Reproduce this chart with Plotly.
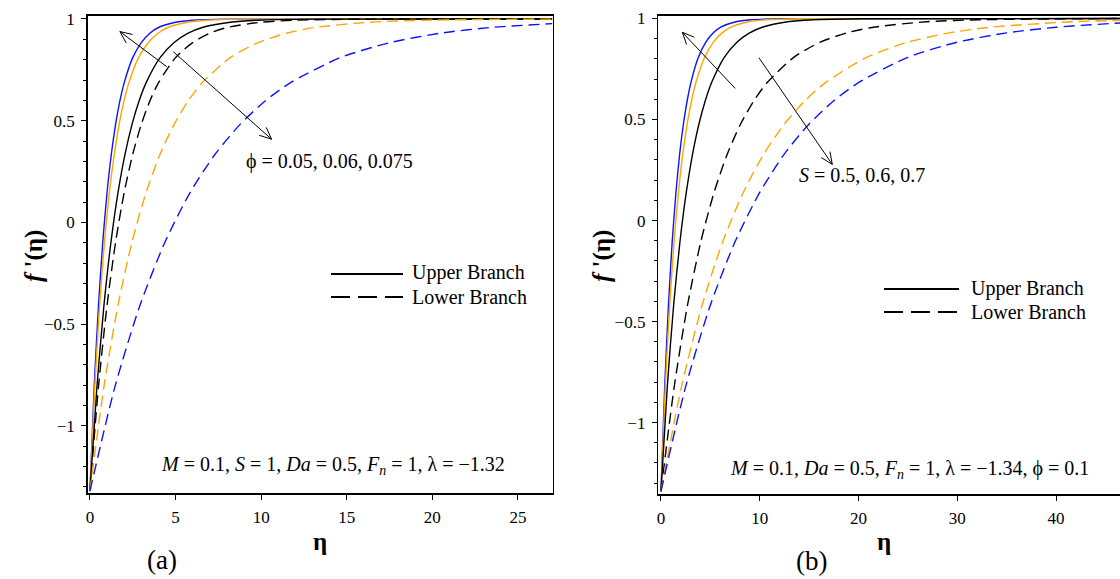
import math
import plotly.graph_objects as go

W, H = 1120, 579
FONT = "Liberation Serif"

# ---------------- data: panel (a)  (phi = 0.05, 0.06, 0.075) ----------------
f_read_a = [-1.32, -0.807, -0.407, -0.096, 0.147, 0.335, 0.482, 0.597, 0.686,
            0.810, 0.884, 0.930, 0.958, 0.984, 0.994, 0.999]

eta_a_up_blue = [0, 0.25, 0.5, 0.75, 1.0, 1.25, 1.5, 1.75, 2.0, 2.5, 3.0, 3.5, 4.0, 5.0, 6.0, 8.0, 27.0]
f_a_up_blue = f_read_a + [1.0]
eta_a_up_orange = [0, 0.284, 0.568, 0.852, 1.136, 1.420, 1.705, 1.989, 2.273, 2.841, 3.409, 3.977, 4.545, 5.682, 6.818, 9.091, 27.0]
f_a_up_orange = f_read_a + [1.0]
eta_a_up_black = [0, 0.410, 0.820, 1.230, 1.639, 2.049, 2.459, 2.869, 3.279, 4.098, 4.918, 5.738, 6.557, 8.197, 9.836, 13.115, 27.0]
f_a_up_black = f_read_a + [1.0]
eta_a_lo_black = [0, 0.5, 1.0, 1.5, 2.0, 2.5, 3.0, 3.5, 4.0, 5.0, 6.0, 7.0, 8.0, 10.0, 12.0, 16.0, 27.0]
f_a_lo_black = f_read_a + [1.0]
eta_a_lo_orange = [0, 0.820, 1.639, 2.459, 3.279, 4.098, 4.918, 5.738, 6.557, 8.197, 9.836, 11.475, 13.115, 16.393, 19.672, 26.230, 27.0]
f_a_lo_orange = f_read_a + [0.999]
eta_a_lo_blue = [0, 1.462, 2.924, 4.386, 5.848, 7.310, 8.772, 10.234, 11.696, 14.620, 17.544, 20.468, 23.392, 27.0]
f_a_lo_blue = f_read_a[:13] + [0.977]

# ---------------- data: panel (b)  (S = 0.5, 0.6, 0.7) ----------------
f_read_b = [-1.34, -0.822, -0.419, -0.105, 0.139, 0.330, 0.478, 0.593, 0.683,
            0.808, 0.883, 0.929, 0.957, 0.984, 0.994, 0.999]

eta_b_up_blue = [0, 0.379, 0.758, 1.136, 1.515, 1.894, 2.273, 2.652, 3.030, 3.788, 4.545, 5.303, 6.061, 7.576, 9.091, 12.121, 46.5]
f_b_up_blue = f_read_b + [1.0]
eta_b_up_orange = [0, 0.442, 0.885, 1.327, 1.770, 2.212, 2.655, 3.097, 3.540, 4.425, 5.310, 6.195, 7.080, 8.850, 10.619, 14.159, 46.5]
f_b_up_orange = f_read_b + [1.0]
eta_b_up_black = [0, 0.641, 1.282, 1.923, 2.564, 3.205, 3.846, 4.487, 5.128, 6.410, 7.692, 8.974, 10.256, 12.821, 15.385, 20.513, 46.5]
f_b_up_black = f_read_b + [1.0]
eta_b_lo_black = [0, 1.344, 2.688, 4.032, 5.376, 6.720, 8.065, 9.409, 10.753, 13.441, 16.129, 18.817, 21.505, 26.882, 32.258, 43.011, 46.5]
f_b_lo_black = f_read_b + [1.0]
eta_b_lo_orange = [0, 2.083, 4.167, 6.25, 8.333, 10.417, 12.5, 14.583, 16.667, 20.833, 25.0, 29.167, 33.333, 41.667, 46.5]
f_b_lo_orange = f_read_b[:14] + [0.991]
eta_b_lo_blue = [0, 2.5, 5.0, 7.5, 10.0, 12.5, 15.0, 17.5, 20.0, 25.0, 30.0, 35.0, 40.0, 46.5]
f_b_lo_blue = f_read_b[:13] + [0.978]

x_ticks_a = [0, 5, 10, 15, 20, 25]
x_ticks_b = [0, 10, 20, 30, 40]
y_ticks = [-1, -0.5, 0, 0.5, 1]

BLUE = "#0a14ff"
ORANGE = "#ffa500"
BLACK = "#000000"

# ---------------- layout geometry (pixels) ----------------
PANELS = {
    "a": dict(x0=87.7, x1=552.7, top=15.7, bot=493.3, xr=[-0.13, 27.03], yr=[-1.331, 1.016]),
    "b": dict(x0=658.3, x1=1120.0, top=15.7, bot=494.3, xr=[-0.27, 46.48], yr=[-1.355, 1.014]),
}


def to_px(p, x, y):
    g = PANELS[p]
    px = g["x0"] + (x - g["xr"][0]) / (g["xr"][1] - g["xr"][0]) * (g["x1"] - g["x0"])
    py = g["bot"] - (y - g["yr"][0]) / (g["yr"][1] - g["yr"][0]) * (g["bot"] - g["top"])
    return px, py


def to_data(p, px, py):
    g = PANELS[p]
    x = g["xr"][0] + (px - g["x0"]) / (g["x1"] - g["x0"]) * (g["xr"][1] - g["xr"][0])
    y = g["yr"][0] + (g["bot"] - py) / (g["bot"] - g["top"]) * (g["yr"][1] - g["yr"][0])
    return x, y


fig = go.Figure()

line_w = 1.4
dash_curve = "11px,6px"

curves = [
    ("a", eta_a_up_blue, f_a_up_blue, BLUE, "solid"),
    ("a", eta_a_up_orange, f_a_up_orange, ORANGE, "solid"),
    ("a", eta_a_up_black, f_a_up_black, BLACK, "solid"),
    ("a", eta_a_lo_black, f_a_lo_black, BLACK, dash_curve),
    ("a", eta_a_lo_orange, f_a_lo_orange, ORANGE, dash_curve),
    ("a", eta_a_lo_blue, f_a_lo_blue, BLUE, dash_curve),
    ("b", eta_b_up_blue, f_b_up_blue, BLUE, "solid"),
    ("b", eta_b_up_orange, f_b_up_orange, ORANGE, "solid"),
    ("b", eta_b_up_black, f_b_up_black, BLACK, "solid"),
    ("b", eta_b_lo_black, f_b_lo_black, BLACK, dash_curve),
    ("b", eta_b_lo_orange, f_b_lo_orange, ORANGE, dash_curve),
    ("b", eta_b_lo_blue, f_b_lo_blue, BLUE, dash_curve),
]
for p, xs, ys, col, dash in curves:
    fig.add_trace(go.Scatter(
        x=xs, y=ys, mode="lines",
        line=dict(color=col, width=line_w, dash=dash, shape="spline", smoothing=0.7),
        xaxis="x" if p == "a" else "x2", yaxis="y" if p == "a" else "y2",
        showlegend=False, hoverinfo="skip"))

tickfont = dict(family=FONT, size=17, color="black")
common_x = dict(showgrid=False, zeroline=False, showline=True, linecolor="black", linewidth=1.5,
                ticks="outside", ticklen=5, tickwidth=1, tickcolor="black", tickfont=tickfont,
                ticklabelstandoff=3)
common_y = dict(showgrid=False, zeroline=False, showline=True, linecolor="black", linewidth=1.5,
                ticks="outside", ticklen=5, tickwidth=1, tickcolor="black", tickfont=tickfont,
                tickvals=y_ticks, ticklabelstandoff=3,
                minor=dict(dtick=0.1, tick0=0, ticks="outside", ticklen=3, tickcolor="black", tickwidth=1))

ga, gb = PANELS["a"], PANELS["b"]
fig.update_layout(
    width=W, height=H, autosize=False,
    margin=dict(l=0, r=0, t=0, b=0, autoexpand=False),
    paper_bgcolor="white", plot_bgcolor="white",
    font=dict(family=FONT, color="black"),
    xaxis=dict(common_x, domain=[ga["x0"] / W, ga["x1"] / W], range=ga["xr"], tickvals=x_ticks_a,
               mirror=True, anchor="y"),
    yaxis=dict(common_y, domain=[1 - ga["bot"] / H, 1 - ga["top"] / H], range=ga["yr"],
               mirror=True, anchor="x"),
    xaxis2=dict(common_x, domain=[gb["x0"] / W, min(1.0, gb["x1"] / W)], range=gb["xr"], tickvals=x_ticks_b,
                mirror=True, anchor="y2"),
    yaxis2=dict(common_y, domain=[1 - gb["bot"] / H, 1 - gb["top"] / H], range=gb["yr"],
                mirror=False, anchor="x2"),
)

# ---------------- arrows (open V heads) ----------------
arrows = [
    ("a", (4.48, 0.766), (1.75, 0.938)),
    ("a", (4.87, 0.839), (10.61, 0.409)),
    ("b", (7.52, 0.654), (2.16, 0.932)),
    ("b", (9.92, 0.806), (17.35, 0.278)),
]
shapes = []
for p, tail, head in arrows:
    tx, ty = to_px(p, *tail)
    hx, hy = to_px(p, *head)
    dx, dy = tx - hx, ty - hy
    L = math.hypot(dx, dy)
    bx, by = dx / L, dy / L
    wings = []
    for ang in (math.radians(24), -math.radians(24)):
        c, s = math.cos(ang), math.sin(ang)
        wx = hx + 13 * (bx * c - by * s)
        wy = hy + 13 * (bx * s + by * c)
        wings.append(to_data(p, wx, wy))
    xr = "x" if p == "a" else "x2"
    yr = "y" if p == "a" else "y2"
    path = (f"M{tail[0]},{tail[1]} L{head[0]},{head[1]} "
            f"M{wings[0][0]},{wings[0][1]} L{head[0]},{head[1]} L{wings[1][0]},{wings[1][1]}")
    shapes.append(dict(type="path", path=path, xref=xr, yref=yr,
                       line=dict(color="black", width=1)))

# ---------------- legend lines (paper coords from pixels) ----------------
legend_items = [
    (331, 403, 274, "solid"), (331, 403, 297, "19px,8px"),
    (884, 959, 289, "solid"), (884, 959, 312, "19px,8px"),
]
for x0, x1, yy, dash in legend_items:
    shapes.append(dict(type="line", xref="paper", yref="paper",
                       x0=x0 / W, x1=x1 / W, y0=1 - yy / H, y1=1 - yy / H,
                       line=dict(color="black", width=1.8, dash=dash)))
fig.update_layout(shapes=shapes)

# ---------------- text ----------------
def ann(text, px, py, size, xanchor="center", angle=0):
    fig.add_annotation(text=text, x=px / W, y=1 - py / H, xref="paper", yref="paper",
                       xanchor=xanchor, yanchor="middle", showarrow=False, textangle=angle,
                       font=dict(family=FONT, size=size, color="black"))

ann("ϕ = 0.05, 0.06, 0.075", 329, 161, 20)
ann("<i>S</i> = 0.5, 0.6, 0.7", 862, 175, 20)
ann("Upper Branch", 410, 272, 20, xanchor="left")
ann("Lower Branch", 410, 297, 20, xanchor="left")
ann("Upper Branch", 969, 288, 20, xanchor="left")
ann("Lower Branch", 969, 312, 20, xanchor="left")
ann("<i>M</i> = 0.1, <i>S</i> = 1, <i>Da</i> = 0.5, <i>F<sub>n</sub></i> = 1, λ = −1.32", 333, 465, 20)
ann("<i>M</i> = 0.1, <i>Da</i> = 0.5, <i>F<sub>n</sub></i> = 1, λ = −1.34, ϕ = 0.1", 909, 469, 20)
ann("<b><i>f</i> '(η)</b>", 34, 256, 25, angle=-90)
ann("<b><i>f</i> '(η)</b>", 602, 256, 25, angle=-90)
ann("<b>η</b>", 320, 541, 25)
ann("<b>η</b>", 884, 541, 25)
ann("(a)", 162, 560, 27)
ann("(b)", 811, 561, 27)

fig.write_html(
    "out.html",
    config={"displayModeBar": False, "staticPlot": True},
    post_script="document.body.style.margin='0px';document.body.style.overflow='hidden';",
)
